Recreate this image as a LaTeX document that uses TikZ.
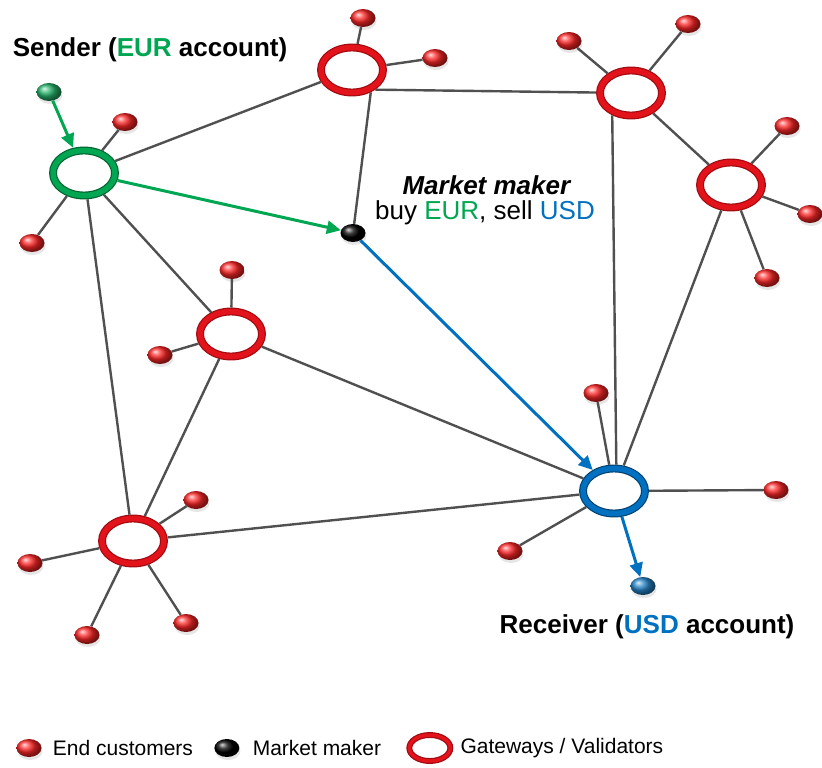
\documentclass[tikz,border=0pt]{standalone}
\usepackage{fontspec}
\setmainfont{Liberation Sans}
\usepackage{tikz}
\usetikzlibrary{positioning,shapes.geometric,arrows.meta,shadows}
\definecolor{EurGreen}{HTML}{00A651}
\definecolor{UsdBlue}{HTML}{0070C0}
\definecolor{LinkGray}{HTML}{505050}
\definecolor{RingRed}{HTML}{E3131B}
\definecolor{RingDark}{HTML}{A00A10}

\begin{document}
\begin{tikzpicture}[x=1pt, y=-1pt,
    gateway/.style={ellipse, draw=RingDark, double=RingRed, double distance=5.5pt, line width=1.2pt,
      minimum width=62pt, minimum height=45pt, inner sep=0pt, outer sep=4pt},
    customer/.style={ellipse, ball color=red!85!white, minimum width=25pt, minimum height=18pt, inner sep=0pt,
      drop shadow={opacity=0.2, shadow xshift=1pt, shadow yshift=-3pt}},
    link/.style={LinkGray, line width=2.4pt},
    eurarrow/.style={EurGreen, line width=3pt, -{Triangle[length=14pt,width=13pt]}},
    usdarrow/.style={UsdBlue, line width=3pt, -{Triangle[length=14pt,width=13pt]}},
    bigfont/.style={font=\fontsize{26}{30}\selectfont},
    legfont/.style={font=\fontsize{21}{25}\selectfont, inner sep=0pt}]
      \useasboundingbox (0,0) rectangle (822,768);
      \node[gateway, draw=EurGreen!60!black, double=EurGreen] (G1) at (84,173) {};
      \node[gateway] (G2) at (352,70) {};
      \node[gateway] (G3) at (631,93) {};
      \node[gateway] (G4) at (731,185) {};
      \node[gateway] (G5) at (231,334) {};
      \node[gateway] (G6) at (133,541) {};
      \node[gateway, draw=UsdBlue!60!black, double=UsdBlue] (G7) at (614,491) {};
      \node[customer, ball color=black] (MM) at (353,233) {};
      \node[customer, ball color=EurGreen!85!white] (sendr) at (49,92) {};
      \node[customer, ball color=UsdBlue!85!white] (recvr) at (643,586) {};
      \node[customer] (c1a) at (125,122) {};
      \node[customer] (c1b) at (32,243) {};
      \node[customer] (c2a) at (363,18) {};
      \node[customer] (c2b) at (435,58) {};
      \node[customer] (c3a) at (569,41) {};
      \node[customer] (c3b) at (688,24) {};
      \node[customer] (c4a) at (787,126) {};
      \node[customer] (c4b) at (810,214) {};
      \node[customer] (c4c) at (767,278) {};
      \node[customer] (c5a) at (232,270) {};
      \node[customer] (c5b) at (160,355) {};
      \node[customer] (c6a) at (196,500) {};
      \node[customer] (c6b) at (30,563) {};
      \node[customer] (c6c) at (87,635) {};
      \node[customer] (c6d) at (186,623) {};
      \node[customer] (c7a) at (596,393) {};
      \node[customer] (c7b) at (776,490) {};
      \node[customer] (c7c) at (510,551) {};
      \draw[link] (G1) -- (G2);
      \draw[link] (G1) -- (G5);
      \draw[link] (G1) -- (G6);
      \draw[link] (G2.-40) -- (G3);
      \draw[link] (G2.-50) -- (MM);
      \draw[link] (G3) -- (G4);
      \draw[link] (G3.-130) -- (G7.85);
      \draw[link] (G4) -- (G7);
      \draw[link] (G5) -- (G6);
      \draw[link] (G5) -- (G7);
      \draw[link] (G6) -- (G7);
      \foreach \g/\c in {G1/c1a, G1/c1b, G2/c2a, G2/c2b, G3/c3a, G3/c3b, G4/c4a, G4/c4b, G4/c4c,
          G5/c5a, G5/c5b, G6/c6a, G6/c6b, G6/c6c, G6/c6d, G7/c7a, G7/c7b, G7/c7c}
        \draw[link] (\g) -- (\c);
      \draw[eurarrow] (sendr) -- (G1);
      \draw[eurarrow] (G1) -- (MM);
      \draw[usdarrow] (MM) -- (G7);
      \draw[usdarrow] (G7) -- (recvr);
      \node[bigfont] (sendlbl) at (150,50) {\textbf{Sender (\textcolor{EurGreen}{EUR} account)}};
      \node[bigfont] (mmlbl) at (487,185) {\textbf{\itshape Market maker}};
      \node[bigfont] (mmtxt) at (485,213) {buy \textcolor{EurGreen}{EUR}, sell \textcolor{UsdBlue}{USD}};
      \node[bigfont] (recvlbl) at (647,627) {\textbf{Receiver (\textcolor{UsdBlue}{USD} account)}};
      \node[customer] (lgcust) at (29,748) {};
      \node[legfont, right=11pt of lgcust] (lgcusttxt) {End customers};
      \node[customer, ball color=black, right=21pt of lgcusttxt] (lgmm) {};
      \node[legfont, right=13pt of lgmm] (lgmmtxt) {Market maker};
      \node[gateway, minimum width=41pt, minimum height=26pt, double distance=3.5pt, right=24pt of lgmmtxt] (lggw) {};
      \node[legfont, right=6pt of lggw] (lggwtxt) {Gateways / Validators};
    \end{tikzpicture}
\end{document}
